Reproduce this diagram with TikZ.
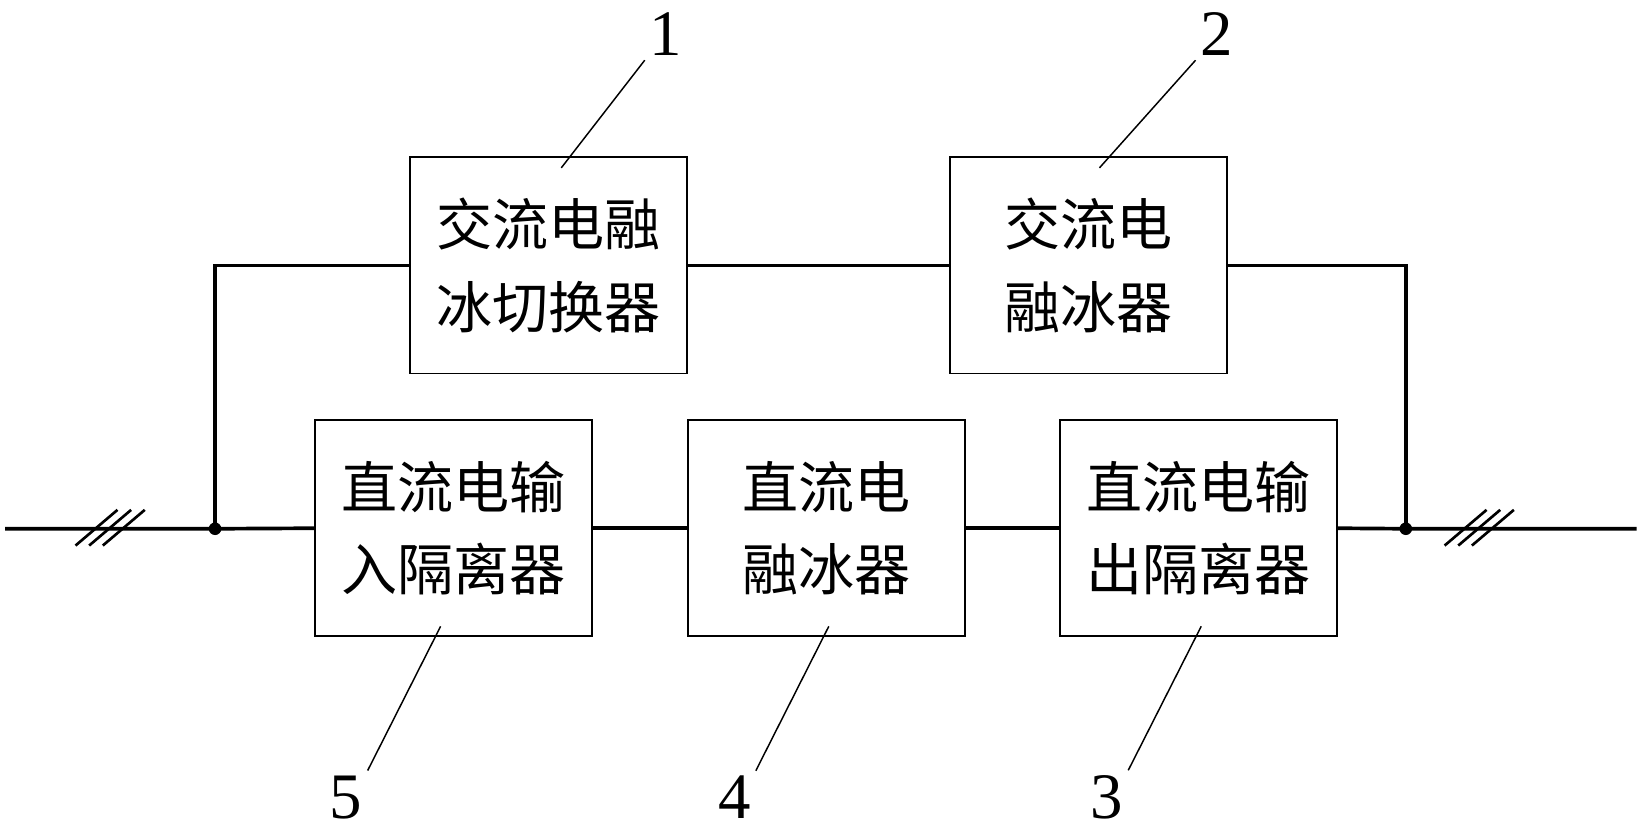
\documentclass[tikz,border=0pt]{standalone}
\usepackage{fontspec}
\setmainfont{Liberation Serif}
\newfontfamily\cjk{Noto Sans CJK SC}
\begin{document}
\begin{tikzpicture}[x=0.025cm,y=-0.025cm,
    blk/.style={draw, line width=1.2pt, minimum width=6.6cm, minimum height=5.15cm,
        align=center, font=\cjk\fontsize{38}{56}\selectfont},
    wire/.style={line width=2.5pt},
    lead/.style={line width=1pt},
    num/.style={font=\fontsize{44}{44}\selectfont}]
    \useasboundingbox (0,0) rectangle (1568,791);
    % blocks
    \node[blk] (acsw) at (522.5,253) {交流电融\\冰切换器};
    \node[blk] (acmelt) at (1037.5,253) {交流电\\融冰器};
    \node[blk] (dcin) at (432.5,503.5) {直流电输\\入隔离器};
    \node[blk] (dcmelt) at (787.5,503.5) {直流电\\融冰器};
    \node[blk] (dcout) at (1142.5,503.5) {直流电输\\出隔离器};
    % bus
    \coordinate (lend) at (5,504);
    \coordinate (rend) at (1560,504);
    \coordinate (jl) at (205,504);
    \coordinate (jr) at (1340,504);
    \draw[wire] (lend) -- (jl) -- (dcin.west);
    \draw[wire] (dcin.east) -- (dcmelt.west);
    \draw[wire] (dcmelt.east) -- (dcout.west);
    \draw[wire] (dcout.east) -- (jr) -- (rend);
    \draw[wire] (jl) |- (acsw.west);
    \draw[wire] (acsw.east) -- (acmelt.west);
    \draw[wire] (acmelt.east) -| (jr);
    \fill (jl) circle (6);
    \fill (jr) circle (6);
    % three-phase marks
    \foreach \c in {105,1410} {
        \foreach \d in {-13,0,13} {
            \draw[line width=1.8pt] (\c+\d-20,520) -- (\c+\d+20,486);
        }
    }
    % reference numbers
    \node[num] (n1) at (635,32) {1};
    \node[num] (n2) at (1160,32) {2};
    \node[num] (n5) at (330,760) {5};
    \node[num] (n4) at (700,760) {4};
    \node[num] (n3) at (1055,760) {3};
    \draw[lead] (535,160) -- (n1.south west);
    \draw[lead] (1048,160) -- (n2.south west);
    \draw[lead] (420,597) -- (n5.north east);
    \draw[lead] (790,597) -- (n4.north east);
    \draw[lead] (1145,597) -- (n3.north east);
\end{tikzpicture}
\end{document}
